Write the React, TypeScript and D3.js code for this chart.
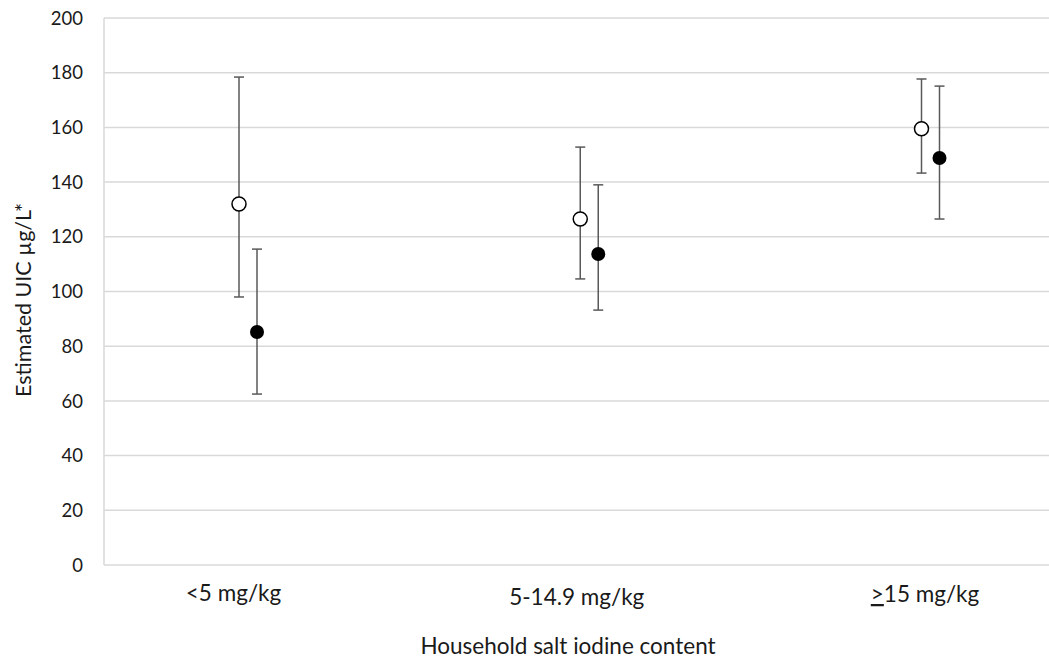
import React from "react";
import * as d3 from "d3";

const categories = ["<5 mg/kg", "5-14.9 mg/kg", ">15 mg/kg"];
const openMean = [132, 126.5, 159.5];
const openLow = [98, 104.6, 143.3];
const openHigh = [178.4, 152.8, 177.7];
const filledMean = [85.2, 113.7, 148.8];
const filledLow = [62.5, 93.2, 126.5];
const filledHigh = [115.5, 139, 175.1];
const yTicks = [0, 20, 40, 60, 80, 100, 120, 140, 160, 180, 200];

// layout tweaks for category labels (offset from the pair's centre)
const labelDx = [-14.5, -12.5, -5.5];
const labelBase = [601, 605, 602];

export default function App() {
  const W = 1049, H = 659;
  const left = 104, right = 1049, top = 18, bottom = 565;
  const y = d3.scaleLinear().domain([0, 200]).range([bottom, top]);
  const x = d3.scalePoint<string>().domain(categories).range([248, 930.5]);
  const off = 9;
  const font = "Lato, 'Open Sans', sans-serif";
  const errColor = "#595959";
  const txt = "#1a1a1a";

  const bar = (cx: number, lo: number, hi: number, key: string) => (
    <g key={key} stroke={errColor} strokeWidth={1.5}>
      <line x1={cx} x2={cx} y1={y(lo)} y2={y(hi)} />
      <line x1={cx - 5} x2={cx + 5} y1={y(lo)} y2={y(lo)} />
      <line x1={cx - 5} x2={cx + 5} y1={y(hi)} y2={y(hi)} />
    </g>
  );

  return (
    <svg width={W} height={H} style={{ position: "absolute", left: 0, top: 0, background: "#fff" }}>
      {yTicks.map((t) => (
        <g key={t}>
          <line x1={left} x2={right} y1={y(t)} y2={y(t)} stroke="#d9d9d9" strokeWidth={1.5} />
          <text x={83} y={y(t)} dy="0.36em" textAnchor="end" fontFamily={font} fontSize={18.5} fill={txt}>
            {t}
          </text>
        </g>
      ))}
      <line x1={left} x2={left} y1={top} y2={bottom} stroke="#d9d9d9" strokeWidth={1.5} />
      {categories.map((c, i) => {
        const cx = x(c)!;
        return (
          <g key={c}>
            {bar(cx - off, openLow[i], openHigh[i], "o" + i)}
            {bar(cx + off, filledLow[i], filledHigh[i], "f" + i)}
            <circle cx={cx - off} cy={y(openMean[i])} r={7} fill="#fff" stroke="#000" strokeWidth={1.5} />
            <circle cx={cx + off} cy={y(filledMean[i])} r={7} fill="#000" />
            <text x={cx + labelDx[i]} y={labelBase[i]} textAnchor="middle" fontFamily={font} fontSize={22.5} fill={txt}>
              {c.startsWith(">") ? (
                <>
                  <tspan textDecoration="underline">&gt;</tspan>
                  {c.slice(1)}
                </>
              ) : (
                c
              )}
            </text>
          </g>
        );
      })}
      <text x={568} y={654} textAnchor="middle" fontFamily={font} fontSize={22.5} fill={txt}>
        Household salt iodine content
      </text>
      <text
        transform={`translate(31, 300) rotate(-90)`}
        textAnchor="middle"
        fontFamily={font}
        fontSize={21.5}
        fill={txt}
      >
        Estimated UIC µg/L*
      </text>
    </svg>
  );
}
